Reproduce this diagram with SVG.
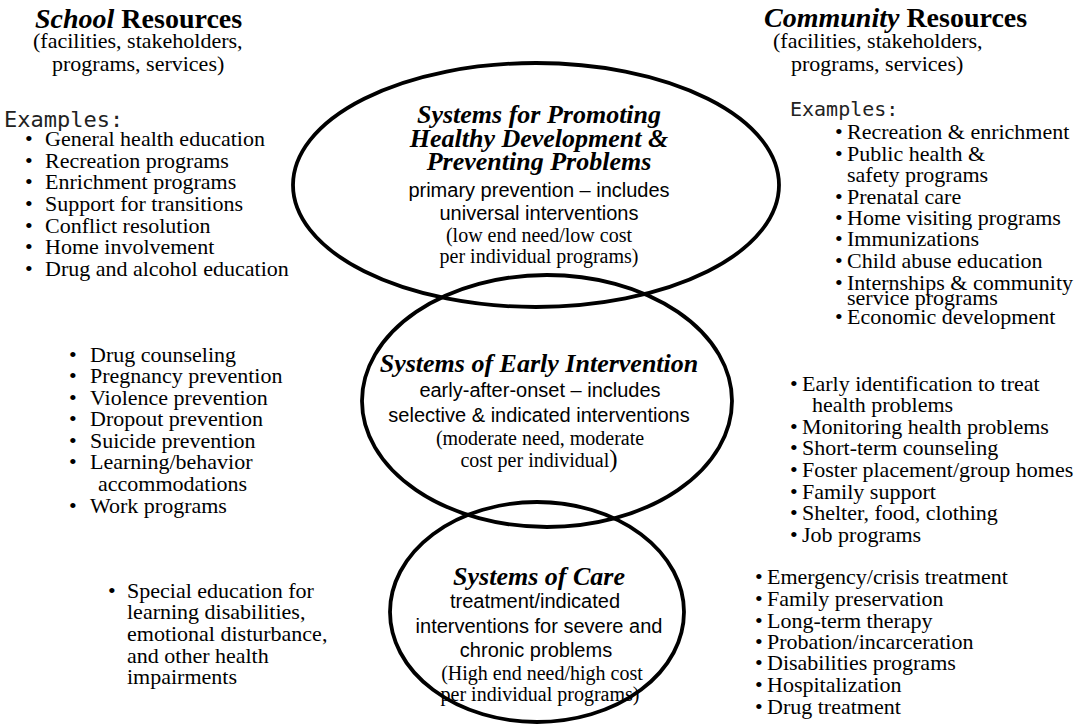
<svg xmlns="http://www.w3.org/2000/svg" width="1078" height="727" viewBox="0 0 1078 727">
  <style>
    .ring { fill: none; stroke: #000; stroke-width: 3.8; }
    .serif { font-family: "Liberation Serif", "Times New Roman", serif; fill: #000; }
    .sans { font-family: "Liberation Sans", Arial, sans-serif; fill: #000; font-size: 20px; }
    .mono { font-family: "DejaVu Sans Mono", "Liberation Mono", monospace; fill: #222; }
    .head { font-size: 28px; font-weight: bold; }
    .sub { font-size: 22px; font-weight: normal; }
    .item { font-size: 22px; }
    .title { font-size: 26px; font-weight: bold; font-style: italic; }
    .note { font-size: 20px; }
    .mid { text-anchor: middle; }
  </style>
  <rect width="1078" height="727" fill="#fff"/>

  <!-- three overlapping system rings -->
  <g id="promotion">
    <ellipse class="ring" cx="536" cy="185" rx="243" ry="122"/>
    <text class="serif title mid" x="539" y="123">Systems for Promoting</text>
    <text class="serif title mid" x="539" y="147">Healthy Development &amp;</text>
    <text class="serif title mid" x="539" y="170">Preventing Problems</text>
    <text class="sans mid" x="539" y="197">primary prevention – includes</text>
    <text class="sans mid" x="539" y="220">universal interventions</text>
    <text class="serif note mid" x="539" y="242">(low end need/low cost</text>
    <text class="serif note mid" x="539" y="263">per individual programs)</text>
  </g>

  <g id="early-intervention">
    <ellipse class="ring" cx="547" cy="401" rx="185" ry="126"/>
    <text class="serif title mid" x="539" y="372">Systems of Early Intervention</text>
    <text class="sans mid" x="540" y="397">early-after-onset – includes</text>
    <text class="sans mid" x="539" y="422">selective &amp; indicated interventions</text>
    <text class="serif note mid" x="540" y="445">(moderate need, moderate</text>
    <text class="serif note mid" x="539" y="467">cost per individual<tspan font-size="25">)</tspan></text>
  </g>

  <g id="care">
    <ellipse class="ring" cx="537" cy="612" rx="147" ry="110"/>
    <text class="serif title mid" x="539" y="585">Systems of Care</text>
    <text class="sans mid" x="535" y="608">treatment/indicated</text>
    <text class="sans mid" x="539" y="633">interventions for severe and</text>
    <text class="sans mid" x="536" y="657">chronic problems</text>
    <text class="serif note mid" x="542" y="680">(High end need/high cost</text>
    <text class="serif note mid" x="540" y="701">per individual programs)</text>
  </g>

  <!-- school side -->
  <g id="school-resources">
    <text class="serif head">
      <tspan x="35" y="28"><tspan font-style="italic">School</tspan> Resources</tspan>
      <tspan class="sub" x="33" y="48">(facilities, stakeholders,</tspan>
      <tspan class="sub" x="52" y="71">programs, services)</tspan>
    </text>
  </g>

  <g id="school-promotion-examples">
    <text class="serif item">
      <tspan class="mono" font-size="22" x="4" y="127">Examples:</tspan>
      <tspan x="25" y="146">•</tspan><tspan x="45" y="146">General health education</tspan>
      <tspan x="25" y="168">•</tspan><tspan x="45" y="168">Recreation programs</tspan>
      <tspan x="25" y="189">•</tspan><tspan x="45" y="189">Enrichment programs</tspan>
      <tspan x="25" y="211">•</tspan><tspan x="45" y="211">Support for transitions</tspan>
      <tspan x="25" y="233">•</tspan><tspan x="45" y="233">Conflict resolution</tspan>
      <tspan x="25" y="254">•</tspan><tspan x="45" y="254">Home involvement</tspan>
      <tspan x="25" y="276">•</tspan><tspan x="45" y="276">Drug and alcohol education</tspan>
    </text>
  </g>

  <g id="school-early-examples">
    <text class="serif item">
      <tspan x="69" y="362">•</tspan><tspan x="90" y="362">Drug counseling</tspan>
      <tspan x="69" y="383">•</tspan><tspan x="90" y="383">Pregnancy prevention</tspan>
      <tspan x="69" y="405">•</tspan><tspan x="90" y="405">Violence prevention</tspan>
      <tspan x="69" y="426">•</tspan><tspan x="90" y="426">Dropout prevention</tspan>
      <tspan x="69" y="448">•</tspan><tspan x="90" y="448">Suicide prevention</tspan>
      <tspan x="69" y="469">•</tspan><tspan x="90" y="469">Learning/behavior</tspan>
      <tspan x="98" y="491">accommodations</tspan>
      <tspan x="69" y="513">•</tspan><tspan x="90" y="513">Work programs</tspan>
    </text>
  </g>

  <g id="school-care-examples">
    <text class="serif item">
      <tspan x="108" y="598">•</tspan><tspan x="127" y="598">Special education for</tspan>
      <tspan x="127" y="619">learning disabilities,</tspan>
      <tspan x="127" y="641">emotional disturbance,</tspan>
      <tspan x="127" y="663">and other health</tspan>
      <tspan x="127" y="684">impairments</tspan>
    </text>
  </g>

  <!-- community side -->
  <g id="community-resources">
    <text class="serif head">
      <tspan x="764" y="27"><tspan font-style="italic">Community</tspan> Resources</tspan>
      <tspan class="sub" x="773" y="48">(facilities, stakeholders,</tspan>
      <tspan class="sub" x="791" y="71">programs, services)</tspan>
    </text>
  </g>

  <g id="community-promotion-examples">
    <text class="serif item">
      <tspan class="mono" font-size="20" x="790" y="116">Examples:</tspan>
      <tspan x="835" y="139">•</tspan><tspan x="847" y="139">Recreation &amp; enrichment</tspan>
      <tspan x="835" y="161">•</tspan><tspan x="847" y="161">Public health &amp;</tspan>
      <tspan x="847" y="182">safety programs</tspan>
      <tspan x="835" y="204">•</tspan><tspan x="847" y="204">Prenatal care</tspan>
      <tspan x="835" y="225">•</tspan><tspan x="847" y="225">Home visiting programs</tspan>
      <tspan x="835" y="246">•</tspan><tspan x="847" y="246">Immunizations</tspan>
      <tspan x="835" y="268">•</tspan><tspan x="847" y="268">Child abuse education</tspan>
      <tspan x="835" y="290">•</tspan><tspan x="847" y="290">Internships &amp; community</tspan>
      <tspan x="847" y="305">service programs</tspan>
      <tspan x="835" y="324">•</tspan><tspan x="847" y="324">Economic development</tspan>
    </text>
  </g>

  <g id="community-early-examples">
    <text class="serif item">
      <tspan x="790" y="391">•</tspan><tspan x="802" y="391">Early identification to treat</tspan>
      <tspan x="812" y="412">health problems</tspan>
      <tspan x="790" y="434">•</tspan><tspan x="802" y="434">Monitoring health problems</tspan>
      <tspan x="790" y="455">•</tspan><tspan x="802" y="455">Short-term counseling</tspan>
      <tspan x="790" y="477">•</tspan><tspan x="802" y="477">Foster placement/group homes</tspan>
      <tspan x="790" y="499">•</tspan><tspan x="802" y="499">Family support</tspan>
      <tspan x="790" y="520">•</tspan><tspan x="802" y="520">Shelter, food, clothing</tspan>
      <tspan x="790" y="542">•</tspan><tspan x="802" y="542">Job programs</tspan>
    </text>
  </g>

  <g id="community-care-examples">
    <text class="serif item">
      <tspan x="755" y="584">•</tspan><tspan x="767" y="584">Emergency/crisis treatment</tspan>
      <tspan x="755" y="606">•</tspan><tspan x="767" y="606">Family preservation</tspan>
      <tspan x="755" y="628">•</tspan><tspan x="767" y="628">Long-term therapy</tspan>
      <tspan x="755" y="649">•</tspan><tspan x="767" y="649">Probation/incarceration</tspan>
      <tspan x="755" y="670">•</tspan><tspan x="767" y="670">Disabilities programs</tspan>
      <tspan x="755" y="692">•</tspan><tspan x="767" y="692">Hospitalization</tspan>
      <tspan x="755" y="714">•</tspan><tspan x="767" y="714">Drug treatment</tspan>
    </text>
  </g>
</svg>
